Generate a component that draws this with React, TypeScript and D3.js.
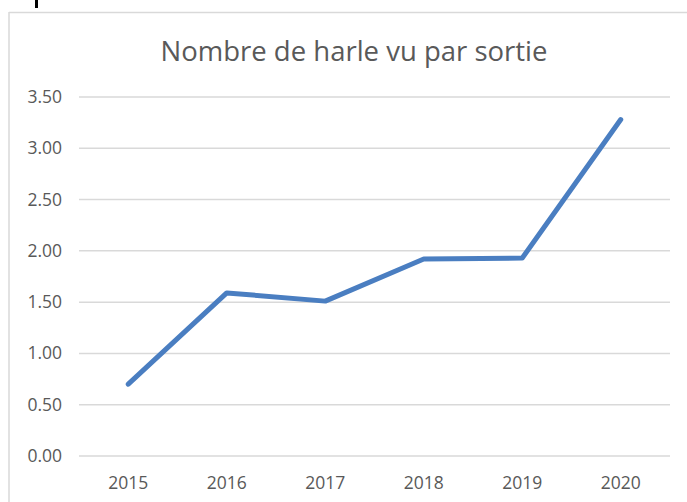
import React from "react";
import * as d3 from "d3";

const categories = ["2015", "2016", "2017", "2018", "2019", "2020"];
const values = [0.7, 1.59, 1.51, 1.92, 1.93, 3.28];
const yTicks = [0, 0.5, 1, 1.5, 2, 2.5, 3, 3.5];
const title = "Nombre de harle vu par sortie";

export default function App() {
  const W = 687, H = 502;
  const left = 79, right = 670, top = 97, bottom = 456;
  const x = d3.scaleBand().domain(categories).range([left, right]);
  const y = d3.scaleLinear().domain([0, 3.5]).range([bottom, top]);
  const line = d3
    .line<number>()
    .x((_, i) => (x(categories[i]) as number) + x.bandwidth() / 2)
    .y((d) => y(d));
  const font = "'Open Sans', sans-serif";
  return (
    <svg width={W} height={H} style={{ position: "absolute", left: 0, top: 0 }}>
      <rect x={0} y={0} width={W} height={H} fill="#fff" />
      <rect x={35} y={0} width={3} height={8} fill="#000" />
      <line x1={9} y1={12.5} x2={W} y2={12.5} stroke="#d9d9d9" strokeWidth={1.5} />
      <line x1={9} y1={12} x2={9} y2={H} stroke="#d9d9d9" strokeWidth={1.5} />
      <text x={354} y={61} textAnchor="middle" fontFamily={font} fontSize={27.5} fill="#595959">
        {title}
      </text>
      {yTicks.map((t) => (
        <g key={t}>
          <line x1={left} x2={right} y1={y(t)} y2={y(t)} stroke="#d9d9d9" strokeWidth={1.5} />
          <text x={62} y={y(t) + 6} textAnchor="end" fontFamily={font} fontSize={17.5} fill="#595959">
            {t.toFixed(2)}
          </text>
        </g>
      ))}
      {categories.map((c) => (
        <text
          key={c}
          x={(x(c) as number) + x.bandwidth() / 2}
          y={489}
          textAnchor="middle"
          fontFamily={font}
          fontSize={17.5}
          fill="#595959"
        >
          {c}
        </text>
      ))}
      <path d={line(values) || ""} fill="none" stroke="#4A7EC1" strokeWidth={5} strokeLinecap="round" strokeLinejoin="round" />
    </svg>
  );
}
